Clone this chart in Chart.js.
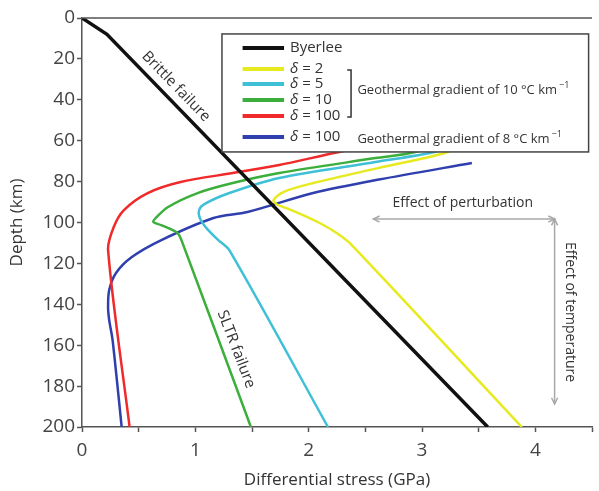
<!DOCTYPE html>
<html>
<head>
<meta charset="utf-8">
<script src="https://cdn.jsdelivr.net/npm/chart.js@4.4.1/dist/chart.umd.min.js"></script>
<style>
  html, body { margin: 0; padding: 0; background: #fff; }
</style>
</head>
<body>
<canvas id="grafico" width="599" height="491"></canvas>
<script>
// Datos (esfuerzo en GPa, profundidad en km)
const xTicks = [0, 1, 2, 3, 4];
const yTicks = [0, 20, 40, 60, 80, 100, 120, 140, 160, 180, 200];

const byerleeStress = [0, 0.22, 3.58];
const byerleeDepth  = [0, 8, 200];

const d2Stress = [3.45, 3.2, 2.62, 2.04, 1.78, 1.69, 1.72, 1.82, 1.96, 2.11, 2.25, 2.37, 3.88];
const d2Depth  = [60, 66, 73.3, 80.7, 85, 89, 91.2, 93.3, 96.6, 100.6, 105.3, 110.5, 200];

const d5Stress = [3.5, 3.11, 2.59, 1.74, 1.30, 1.07, 1.03, 1.05, 1.11, 1.20, 1.30, 2.17];
const d5Depth  = [59, 65.5, 70.4, 78.2, 85.6, 91.4, 94.9, 99, 103.5, 108.5, 113.5, 200];

const d10Stress = [3.4, 2.94, 2.59, 1.74, 1.33, 1.02, 0.76, 0.65, 0.63, 0.70, 0.84, 0.88, 1.49];
const d10Depth  = [57, 65.5, 68.5, 75.8, 80.7, 85.6, 92.4, 97.8, 99.8, 101.3, 105, 109, 200];

const d100Stress = [3.3, 2.27, 1.74, 1.33, 0.87, 0.58, 0.37, 0.28, 0.23, 0.42];
const d100Depth  = [55, 65.5, 71.9, 75.8, 80.2, 85.6, 93.9, 102.2, 113.4, 200];

const d100bStress = [3.44, 2.62, 2.04, 1.46, 1.16, 0.70, 0.44, 0.30, 0.24, 0.23, 0.24, 0.27, 0.35];
const d100bDepth  = [70.9, 79, 85.6, 94.9, 97.8, 108.6, 116.9, 124.7, 133, 141.3, 147.7, 157.5, 200];

const seriesLabels = ['Byerlee', 'δ = 2', 'δ = 5', 'δ = 10', 'δ = 100', 'δ = 100'];
const seriesColors = ['#111111', '#e6ea1e', '#3fc0d6', '#3cae3c', '#f02a2a', '#2f3fae'];

const puntos = (xs, ys) => xs.map((v, i) => ({ x: v, y: ys[i] }));

const series = [
  puntos(byerleeStress, byerleeDepth),
  puntos(d2Stress, d2Depth),
  puntos(d5Stress, d5Depth),
  puntos(d10Stress, d10Depth),
  puntos(d100Stress, d100Depth),
  puntos(d100bStress, d100bDepth)
];

const FONT = "'Open Sans', 'Noto Sans', sans-serif";
const TXT = '#333';

function textoRotado(ctx, txt, cx, cy, ang, size) {
  ctx.save();
  ctx.translate(cx, cy);
  ctx.rotate(ang * Math.PI / 180);
  ctx.font = size + 'px ' + FONT;
  ctx.fillStyle = TXT;
  ctx.textAlign = 'center';
  ctx.textBaseline = 'middle';
  ctx.fillText(txt, 0, 0);
  ctx.restore();
}

function flecha(ctx, x1, y1, x2, y2) {
  const a = Math.atan2(y2 - y1, x2 - x1);
  ctx.beginPath();
  ctx.moveTo(x1, y1);
  ctx.lineTo(x2, y2);
  ctx.stroke();
  [[x1, y1, a + Math.PI], [x2, y2, a]].forEach(([x, y, t]) => {
    ctx.beginPath();
    ctx.moveTo(x - 7 * Math.cos(t - 0.45), y - 7 * Math.sin(t - 0.45));
    ctx.lineTo(x, y);
    ctx.lineTo(x - 7 * Math.cos(t + 0.45), y - 7 * Math.sin(t + 0.45));
    ctx.stroke();
  });
}

// Marco, leyenda y anotaciones
const decoracion = {
  id: 'decoracion',
  afterDatasetsDraw(chart) {
    const { ctx, chartArea: a, scales: { x, y } } = chart;
    const px = v => x.getPixelForValue(v);
    const py = d => y.getPixelForValue(d);
    ctx.save();

    // línea superior del marco
    ctx.strokeStyle = '#555';
    ctx.lineWidth = 1.5;
    ctx.beginPath();
    ctx.moveTo(a.left, a.top);
    ctx.lineTo(a.right, a.top);
    ctx.stroke();

    // caja de leyenda
    const bx1 = px(1.235), bx2 = px(4.47), by1 = py(7.8), by2 = py(65.5);
    ctx.fillStyle = '#fff';
    ctx.fillRect(bx1, by1, bx2 - bx1, by2 - by1);
    ctx.strokeStyle = '#444';
    ctx.lineWidth = 1.5;
    ctx.strokeRect(bx1, by1, bx2 - bx1, by2 - by1);

    const filas = [14.7, 24.9, 32.3, 40.1, 47.9, 58.2];
    ctx.textBaseline = 'middle';
    filas.forEach((d, i) => {
      const yy = py(d);
      ctx.strokeStyle = seriesColors[i];
      ctx.lineWidth = 4;
      ctx.beginPath();
      ctx.moveTo(px(1.417), yy);
      ctx.lineTo(px(1.783), yy);
      ctx.stroke();
      ctx.fillStyle = TXT;
      const lab = seriesLabels[i];
      let tx = px(1.835);
      if (lab.startsWith('δ')) {
        ctx.font = 'italic 15px ' + FONT;
        ctx.fillText('δ', tx, yy);
        tx += ctx.measureText('δ').width;
        ctx.font = '15px ' + FONT;
        ctx.fillText(lab.slice(1), tx, yy);
      } else {
        ctx.font = '15px ' + FONT;
        ctx.fillText(lab, tx, yy);
      }
    });

    // corchete de los casos de 10 °C/km
    ctx.strokeStyle = '#333';
    ctx.lineWidth = 1.5;
    ctx.beginPath();
    ctx.moveTo(px(2.34), py(25.4));
    ctx.lineTo(px(2.374), py(25.4));
    ctx.lineTo(px(2.374), py(48.4));
    ctx.lineTo(px(2.34), py(48.4));
    ctx.stroke();

    const gradiente = (txt, d) => {
      ctx.fillStyle = TXT;
      ctx.font = '13px ' + FONT;
      ctx.fillText(txt, px(2.43), py(d));
      const w = ctx.measureText(txt).width;
      ctx.font = '9px ' + FONT;
      ctx.fillText('−1', px(2.43) + w + 2, py(d) - 5);
    };
    gradiente('Geothermal gradient of 10 °C km', 35.2);
    gradiente('Geothermal gradient of 8 °C km', 59.2);

    // textos sobre las curvas
    textoRotado(ctx, 'Brittle failure', px(0.83), py(33.5), 46, 15);
    textoRotado(ctx, 'SLTR failure', px(1.36), py(162), 69, 15);

    // flechas de efecto
    ctx.strokeStyle = '#a8a8a8';
    ctx.lineWidth = 1.5;
    flecha(ctx, px(2.57), py(98.3), px(4.17), py(98.3));
    flecha(ctx, px(4.17), py(98.3), px(4.17), py(188.8));
    ctx.fillStyle = TXT;
    ctx.font = '14px ' + FONT;
    ctx.textAlign = 'center';
    ctx.fillText('Effect of perturbation', px(3.36), py(90.5));
    textoRotado(ctx, 'Effect of temperature', px(4.31), py(143.8), 90, 14);

    ctx.restore();
  }
};

const ctx = document.getElementById('grafico').getContext('2d');

const chart = new Chart(ctx, {
  type: 'line',
  data: {
    datasets: series.map((pts, i) => ({
      label: seriesLabels[i],
      data: pts,
      borderColor: seriesColors[i],
      borderWidth: i === 0 ? 3.5 : 2.5,
      pointRadius: 0,
      fill: false,
      tension: i === 0 ? 0 : 0.3
    }))
  },
  options: {
    responsive: false,
    animation: false,
    layout: { padding: { top: 18, right: 0, left: 0, bottom: 0 } },
    plugins: {
      legend: { display: false },
      tooltip: { enabled: false }
    },
    scales: {
      x: {
        type: 'linear',
        min: 0,
        max: 4.5,
        afterFit: s => { s.height = 64; },
        afterBuildTicks: s => {
          s.ticks = [0, 0.5, 1, 1.5, 2, 2.5, 3, 3.5, 4, 4.5].map(v => ({ value: v }));
        },
        ticks: {
          autoSkip: false,
          maxRotation: 0,
          padding: 7,
          color: '#444',
          font: { family: FONT, size: 19 },
          callback: v => xTicks.includes(v) ? String(v) : ''
        },
        grid: { drawOnChartArea: false, tickLength: 5, color: '#555', tickWidth: 1.5 },
        border: { color: '#555', width: 1.5 },
        title: {
          display: true,
          text: 'Differential stress (GPa)',
          color: TXT,
          font: { family: FONT, size: 17 },
          padding: { top: 0, bottom: 1 }
        }
      },
      y: {
        type: 'linear',
        reverse: true,
        min: 0,
        max: 200,
        afterFit: s => { s.width = 82; },
        afterBuildTicks: s => { s.ticks = yTicks.map(v => ({ value: v })); },
        ticks: {
          padding: 2,
          color: '#444',
          font: { family: FONT, size: 19 }
        },
        grid: { drawOnChartArea: false, tickLength: 5, color: '#555', tickWidth: 1.5 },
        border: { color: '#555', width: 1.5 },
        title: {
          display: true,
          text: 'Depth (km)',
          color: TXT,
          font: { family: FONT, size: 17 },
          padding: { top: 7, bottom: 0 }
        }
      }
    }
  },
  plugins: [decoracion]
});
</script>
</body>
</html>
